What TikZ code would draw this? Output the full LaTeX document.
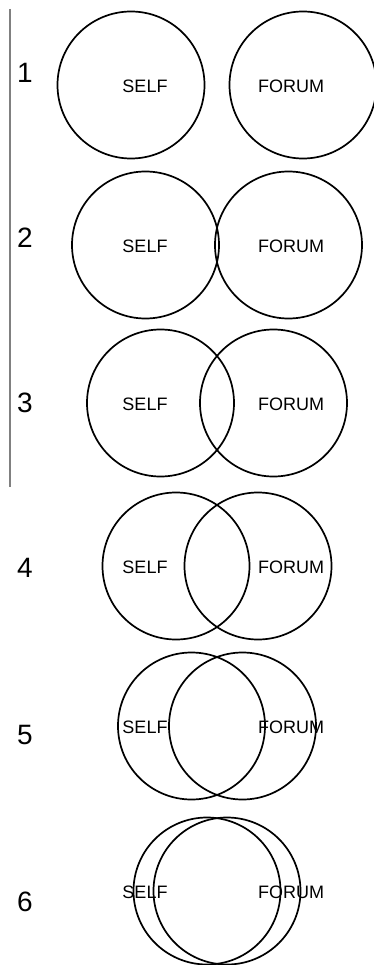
\documentclass[tikz,border=0pt]{standalone}
\usepackage{fontspec}
\setmainfont{Liberation Sans}
\begin{document}
\begin{tikzpicture}[x=1pt,y=-1pt,
  ring/.style={circle,draw=black,line width=1.7pt,minimum size=147pt,inner sep=0pt},
  word/.style={font=\fontsize{18}{20}\selectfont,inner sep=0pt},
  stage/.style={font=\fontsize{28}{30}\selectfont,inner sep=0pt}]
\useasboundingbox (0,0) rectangle (374,965);
% bracket line beside stages 1-3
\coordinate (bartop) at (10,9);
\coordinate (barbot) at (10,487);
\draw[gray,line width=2pt] (bartop) -- (barbot);
% stage number, row centre y, half distance between the two centres
\foreach \k/\cy/\h/\ny in {1/85/86/73, 2/245/71.5/238, 3/403/56.5/403, 4/566/41/568, 5/726/25.5/735, 6/891/10/902}{
  \node[ring] (self\k) at (217-\h,\cy) {};
  \node[ring] (forum\k) at (217+\h,\cy) {};
  \node[word] (tself\k) at (145,\cy+1) {SELF};
  \node[word] (tforum\k) at (291,\cy+1) {FORUM};
  \node[stage] (num\k) at (25,\ny) {\k};
}
\end{tikzpicture}
\end{document}
